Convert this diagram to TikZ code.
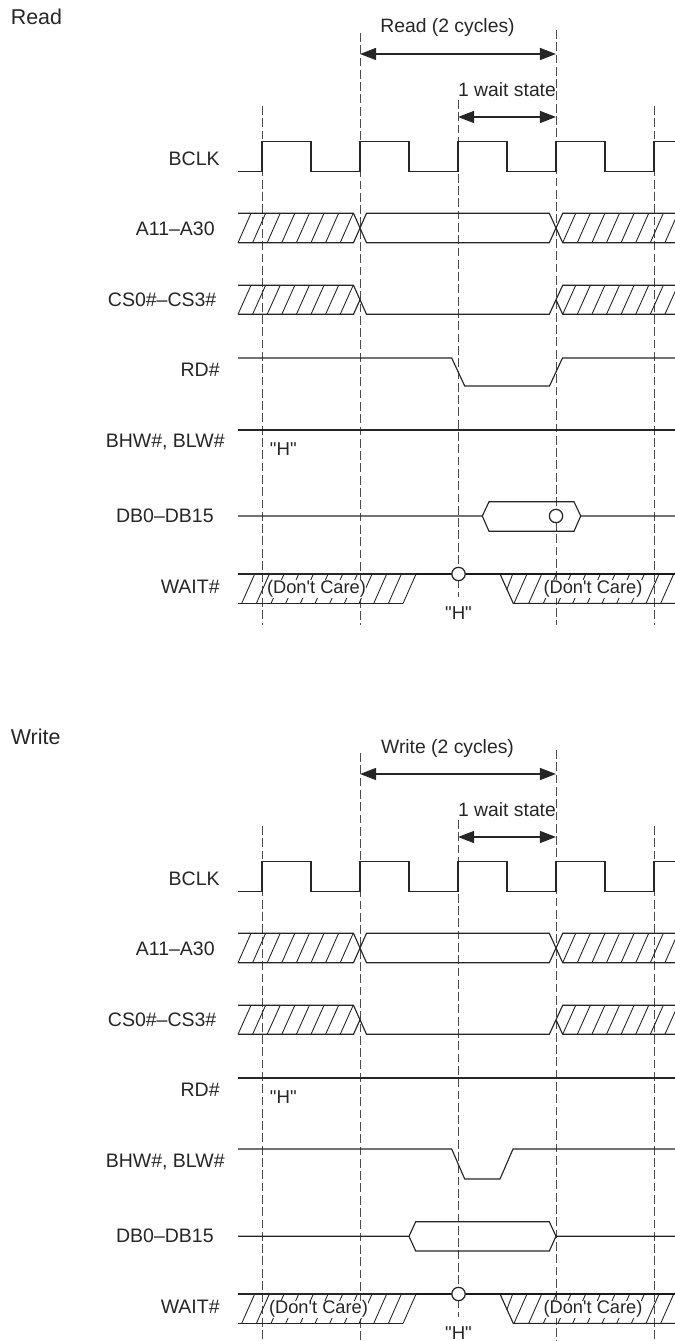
\documentclass[tikz,border=0pt]{standalone}
\usepackage{fontspec}
\setmainfont{Liberation Sans}
\newfontfamily\straightfont{Liberation Sans}
\usetikzlibrary{arrows.meta}

\tikzset{
  signal/.style={line width=0.65pt, draw=black!85},
  heavy/.style={line width=1.2pt, draw=black!90},
  hatch/.style={line width=0.5pt, draw=black!85},
  guide/.style={line width=0.55pt, draw=black!70, dash pattern=on 5pt off 2pt},
  span/.style={line width=1.1pt, draw=black!85, {Triangle[length=9.2pt,width=6.8pt]}-{Triangle[length=9.2pt,width=6.8pt]}},
  sig/.style={font=\fontsize{11.1}{12}\selectfont, text=black!85, anchor=east, inner sep=0pt},
  note/.style={font=\fontsize{11}{12}\selectfont, text=black!85, inner sep=0pt},
  level/.style={font=\straightfont\fontsize{10.6}{12}\selectfont, text=black!85, inner sep=0pt},
  heading/.style={font=\fontsize{12.2}{14}\selectfont, text=black!85, anchor=west, inner sep=0pt},
  care/.style={font=\straightfont\fontsize{10.4}{12}\selectfont, text=black!85, fill=white, inner sep=0pt},
  probe/.style={circle, draw=black!85, line width=0.7pt, fill=white, minimum size=7.6pt, inner sep=0pt}
}

\begin{document}
\begin{tikzpicture}[x=0.02cm, y=-0.02cm, line cap=butt, line join=miter]
  \useasboundingbox (0,0) rectangle (675,1341);

  % parts that both timing charts share
  \foreach \base/\dashend/\opname/\carex in {0/625/Read/316.5, 720/621/Write/318.5} {
    \begin{scope}[shift={(0,\base)}]
      \node[heading] (title\base) at (10.5,17) {\opname};
      \node[sig] (bclk\base) at (220,158.5) {BCLK};
      \node[sig] (addr\base) at (215,228.5) {A11--A30};
      \node[sig] (cs\base) at (216.7,300) {CS0\#--CS3\#};
      \node[sig] (rd\base) at (220,370) {RD\#};
      \node[sig] (bhw\base) at (225,442) {BHW\#, BLW\#};
      \node[sig] (db\base) at (214,516) {DB0--DB15};
      \node[sig] (wait\base) at (220,586.7) {WAIT\#};

      % guides
      \draw[guide] (262,106) -- (262,\dashend);
      \draw[guide] (360,33) -- (360,\dashend);
      \draw[guide] (458,100) -- (458,597);
      \draw[guide] (556,30) -- (556,\dashend);
      \draw[guide] (654,106) -- (654,\dashend);

      % spans
      \node[note] (cycles\base) at (447.5,28) {\opname{} (2 cycles)};
      \node[note] (state\base) at (507,89.5) {1 wait state};
      \coordinate (cycleA\base) at (360,54);
      \coordinate (cycleB\base) at (556,54);
      \coordinate (stateA\base) at (458,117);
      \coordinate (stateB\base) at (556,117);
      \draw[span] (cycleA\base) -- (cycleB\base);
      \draw[span] (stateA\base) -- (stateB\base);

      % clock
      \draw[signal] (238,171.4) -- (262,171.4) -- (262,141.4) -- (311,141.4) -- (311,171.4)
        -- (360,171.4) -- (360,141.4) -- (409,141.4) -- (409,171.4)
        -- (458,171.4) -- (458,141.4) -- (507,141.4) -- (507,171.4)
        -- (556,171.4) -- (556,141.4) -- (605,141.4) -- (605,171.4)
        -- (654,171.4) -- (654,141.4) -- (675,141.4);

      % address bus
      \draw[signal] (238,213.3) -- (353.5,213.3) -- (366.5,242.7) -- (549.3,242.7) -- (562.7,213.3) -- (675,213.3);
      \draw[signal] (238,242.7) -- (353.5,242.7) -- (366.5,213.3) -- (549.3,213.3) -- (562.7,242.7) -- (675,242.7);
      % chip select
      \draw[signal] (238,285.3) -- (353.5,285.3) -- (366.5,314.3) -- (549.3,314.3) -- (556,299.8) -- (562.7,285.3) -- (675,285.3);
      \draw[signal] (238,314.3) -- (353.5,314.3) -- (360,299.8);
      \draw[signal] (556,299.8) -- (562.7,314.3) -- (675,314.3);

      % hatching
      \begin{scope}
        \clip (236,200) rectangle (675,610);
        \foreach \k in {0,...,7} {
          \draw[hatch] ({238+14.6*\k},242.7) -- ++(13,-29.4);
          \draw[hatch] ({238+14.6*\k},314.3) -- ++(13,-29);
          \draw[hatch] ({562.7+14.6*\k},242.7) -- ++(13,-29.4);
          \draw[hatch] ({562.7+14.6*\k},314.3) -- ++(13,-29);
        }
        \foreach \k in {0,...,11} {
          \draw[hatch] ({241.7+14.67*\k},603.4) -- ++(13,-29.4);
        }
        \foreach \k in {0,...,10} {
          \draw[hatch] ({514+14.67*\k},603.4) -- ++(13,-29.4);
        }
        \draw[hatch] (506.7,590) -- (512.7,574);
      \end{scope}

      % wait line
      \draw[signal] (238,574) -- (416,574);
      \draw[signal] (238,603.4) -- (402.7,603.4);
      \draw[signal] (500,574) -- (513.3,603.4) -- (675,603.4);
      \coordinate (waitA\base) at (416,574);
      \coordinate (waitB\base) at (675,574);
      \draw[heavy] (waitA\base) -- (waitB\base);
      \node[probe] (waitmark\base) at (458.5,574) {};
      \node[level] (waith\base) at (458.5,613) {"H"};
      \node[care] (careA\base) at (\carex,589) {(Don't Care)};
      \node[care] (careB\base) at (593,589) {(Don't Care)};
    \end{scope}
  }

  % read chart
  \draw[signal] (238,358) -- (451.7,358) -- (464.7,386) -- (549.5,386) -- (562.5,358) -- (675,358);
  \draw[signal] (238,430) -- (675,430);
  \node[level] (readh) at (283.3,449.3) {"H"};
  \draw[signal] (238,516) -- (482.3,516) -- (489,501.7) -- (574,501.7) -- (580.7,516) -- (675,516);
  \draw[signal] (482.3,516) -- (489,531.3) -- (574,531.3) -- (580.7,516);
  \node[probe] (readmark) at (556,516) {};

  % write chart
  \draw[signal] (238,1078) -- (675,1078);
  \node[level] (writeh) at (283.3,1097.3) {"H"};
  \draw[signal] (238,1149) -- (451.7,1149) -- (464.7,1179) -- (500,1179) -- (513,1149) -- (675,1149);
  \draw[signal] (238,1236.3) -- (409,1236.3) -- (415.7,1221.7) -- (549.3,1221.7) -- (556,1236.3) -- (675,1236.3);
  \draw[signal] (409,1236.3) -- (415.7,1251) -- (549.3,1251) -- (556,1236.3);
\end{tikzpicture}
\end{document}
